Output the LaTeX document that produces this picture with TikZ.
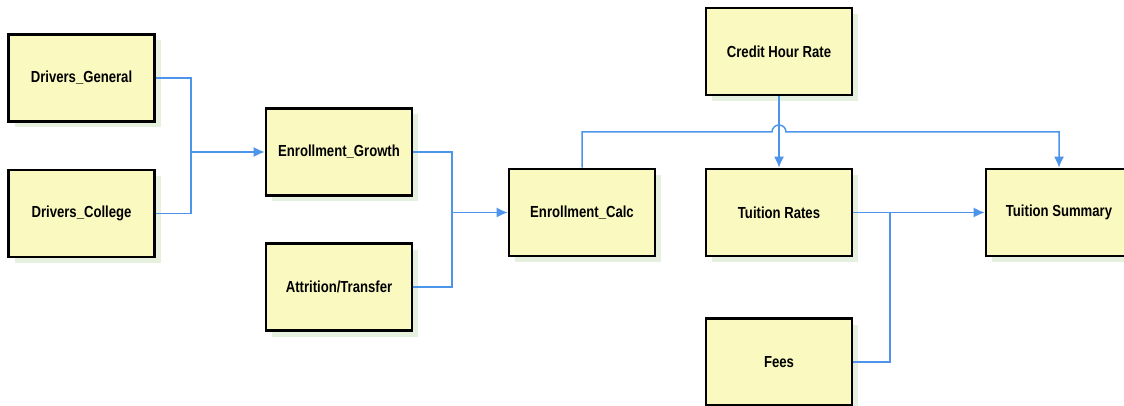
\documentclass[tikz,border=0pt]{standalone}
\usepackage{fontspec}
\setmainfont{Liberation Sans}[FakeStretch=0.82]
\usetikzlibrary{shadows}
\usetikzlibrary{arrows.meta,positioning,calc}

\definecolor{boxfill}{RGB}{250,250,192}
\definecolor{linkblue}{RGB}{77,148,235}
\definecolor{shadowgreen}{RGB}{230,240,222}

\begin{document}
\begin{tikzpicture}[x=1pt,y=-1pt,
    block/.style={draw=black,line width=2.6pt,fill=boxfill,minimum width=146pt,minimum height=87pt,
      font=\fontsize{16}{18}\selectfont\bfseries,
      drop shadow={shadow xshift=6pt,shadow yshift=-6pt,fill=shadowgreen,opacity=1}},
    link/.style={draw=linkblue,line width=1.5pt},
    arr/.style={link,-{Latex[length=11pt,width=10pt]}}]
  \useasboundingbox (0,0) rectangle (1124,406);
  \node[block] (dg) at (81.5,78) {Drivers\_General};
  \node[block] (dc) at (81.5,213.5) {Drivers\_College};
  \node[block] (eg) at (339,152) {Enrollment\_Growth};
  \node[block] (at) at (339,287) {Attrition/Transfer};
  \node[block] (ec) at (582,212.5) {Enrollment\_Calc};
  \node[block] (chr) at (779,51.5) {Credit Hour Rate};
  \node[block] (tr) at (779,212.5) {Tuition Rates};
  \node[block] (ts) at (1059,212.5) {Tuition Summary};
  \node[block] (fees) at (779,362) {Fees};
  \coordinate (j1) at (191,152);
  \coordinate (j2) at (452,212.5);
  \coordinate (j3) at (890,212.5);
  \coordinate (hop) at (772,132);
  \draw[link] (dg.east) -| (j1);
  \draw[arr] (dc.east) -| (j1) -- (eg.west);
  \draw[link] (eg.east) -| (j2);
  \draw[arr] (at.east) -| (j2) -- (ec.west);
  \draw[arr] (chr.south) -- (tr.north);
  \draw[arr] (ec.north) |- (hop) arc[start angle=180,end angle=360,radius=7] -| (ts.north);
  \draw[arr] (tr.east) -- (ts.west);
  \draw[link] (fees.east) -| (j3);
\end{tikzpicture}
\end{document}
